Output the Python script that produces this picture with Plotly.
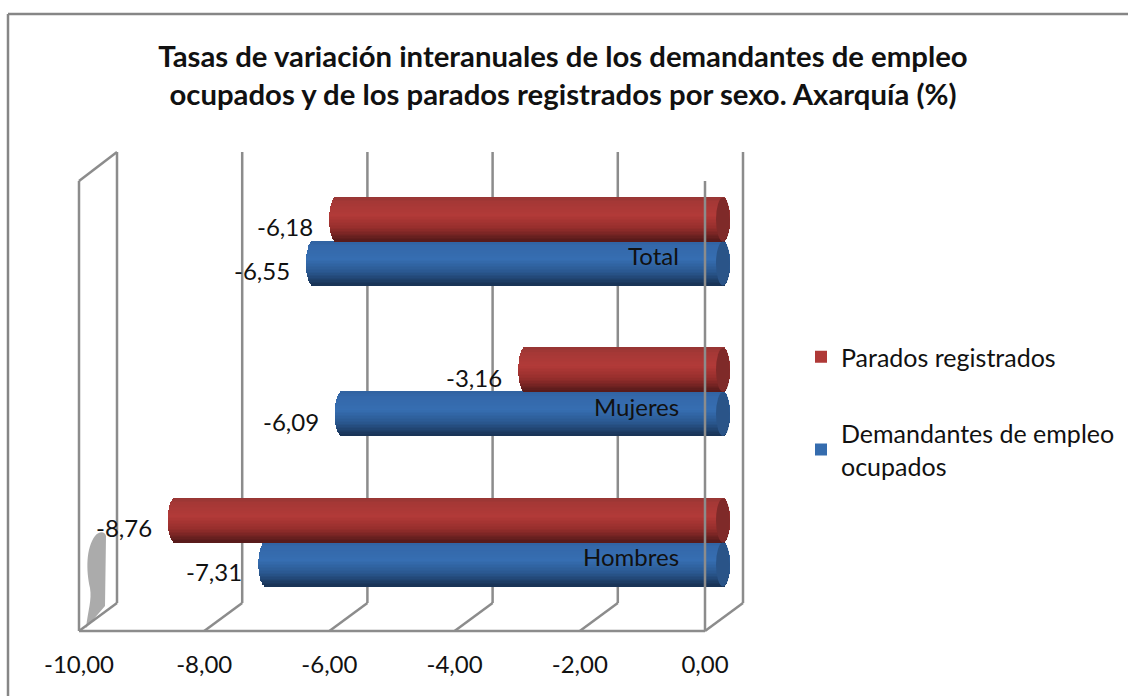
import math
import plotly.graph_objects as go

W, H = 1128, 696
CATEGORIES = ["Hombres", "Mujeres", "Total"]
PARADOS = [-8.76, -3.16, -6.18]
OCUPADOS = [-7.31, -6.09, -6.55]
TICKS = [-10, -8, -6, -4, -2, 0]
TICK_LABELS = ["-10,00", "-8,00", "-6,00", "-4,00", "-2,00", "0,00"]
SERIES_PARADOS = "Parados registrados"
SERIES_OCUPADOS = "Demandantes de empleo<br>ocupados"
TITLE = ("<b>Tasas de variación interanuales de los demandantes de empleo<br>"
         "ocupados y de los parados registrados por sexo. Axarquía (%)</b>")

FONT = "Lato"
GRID = "#8c8c8c"
FRONT_L, FRONT_R, FLOOR_Y = 79, 705, 631
DEPTH_X, DEPTH_Y = 38, 28
BAR_SHIFT = 18
WALL_TOP = 152

def px(x): return x / W
def py(y): return 1 - y / H

CAT_STEP = 150.5
CAT_TOP = 241.5
BAR_H = 44
CAP_R = 7
Y_T, Y_B = CAT_TOP - CAT_STEP / 2, CAT_TOP + 2.5 * CAT_STEP
SCALE = (FRONT_R - FRONT_L) / 10
BAR_UNIT = BAR_H / CAT_STEP
N = 30
OVER = 0.5  # extra axis room right of zero for the cylinder caps

def shade(stops, t):
    for (t0, c0), (t1, c1) in zip(stops, stops[1:]):
        if t <= t1:
            f = (t - t0) / (t1 - t0)
            c = [round(a + (b - a) * f) for a, b in zip(c0, c1)]
            return f"rgb({c[0]},{c[1]},{c[2]})"
    c = stops[-1][1]
    return f"rgb({c[0]},{c[1]},{c[2]})"

RED = [(0, (150, 54, 52)), (0.12, (165, 56, 54)), (0.42, (178, 58, 56)), (0.7, (150, 46, 44)), (1, (85, 26, 26))]
BLUE = [(0, (48, 98, 160)), (0.12, (52, 104, 170)), (0.42, (54, 110, 178)), (0.7, (42, 88, 144)), (1, (24, 50, 84))]

fig = go.Figure()

def add_series(name, values, stops, side, rank):
    fig.add_trace(go.Bar(
        y=CATEGORIES, x=values, orientation="h", name=name, xaxis="x2", yaxis="y2",
        marker=dict(color=shade(stops, 0.45), line=dict(width=0)),
        width=BAR_UNIT, offset=(0 if side < 0 else -BAR_UNIT),
        showlegend=True, hoverinfo="skip", legendgroup=name, legendrank=rank,
    ))
    for i in range(N):
        t0 = i / N
        tm = (i + 0.5) / N
        e = math.sqrt(max(0, 1 - (2 * tm - 1) ** 2)) * CAP_R / SCALE
        h = BAR_UNIT / N
        off = (BAR_UNIT * (1 - t0) - h) if side < 0 else (-BAR_UNIT * t0 - h)
        fig.add_trace(go.Bar(
            y=CATEGORIES, x=[v - 2 * e for v in values], base=[e] * 3, orientation="h",
            xaxis="x2", yaxis="y2", marker=dict(color=shade(stops, tm), line=dict(width=0)),
            width=h * 1.25, offset=off, showlegend=False, hoverinfo="skip", legendgroup=name,
        ))

add_series(SERIES_OCUPADOS, OCUPADOS, BLUE, 1, 2)
add_series(SERIES_PARADOS, PARADOS, RED, -1, 1)

fig.add_trace(go.Scatter(x=TICKS, y=[0] * 6, mode="markers", marker=dict(opacity=0),
                         showlegend=False, hoverinfo="skip", xaxis="x", yaxis="y"))

shapes = []
def line(x0, y0, x1, y1, layer="below", w=2.5, color=GRID):
    shapes.append(dict(type="line", xref="paper", yref="paper", x0=px(x0), y0=py(y0), x1=px(x1), y1=py(y1),
                       line=dict(color=color, width=w), layer=layer))

# outer frame: only its top and left edges fall inside the picture
line(8, 14, W, 14, color="#868686")
line(8, 14, 8, H, color="#868686")

# soft grey smudge on the side wall
P = lambda x, y: f"{px(x)} {py(y)}"
shapes.append(dict(type="path", xref="paper", yref="paper", layer="below", line=dict(width=0),
                   fillcolor="#ababab",
                   path=f"M {P(86, 628)} C {P(88, 610)} {P(92, 600)} {P(90, 588)} "
                        f"C {P(86, 570)} {P(86, 548)} {P(95, 536)} C {P(99, 531)} {P(105, 531)} {P(106, 536)} "
                        f"L {P(105, 606)} Z"))

for v in TICKS:
    fx = FRONT_R + v * SCALE
    bx = fx + DEPTH_X
    line(bx, WALL_TOP, bx, FLOOR_Y - DEPTH_Y)
    line(fx, FLOOR_Y, bx, FLOOR_Y - DEPTH_Y)

line(FRONT_L, FLOOR_Y, FRONT_L, WALL_TOP + 29)
line(FRONT_L, WALL_TOP + 29, FRONT_L + DEPTH_X, WALL_TOP)
line(FRONT_L, FLOOR_Y, FRONT_R, FLOOR_Y)

for cat_i in range(3):
    for y0, y1, col in ((0, BAR_H, "#7f2a29"), (-BAR_H, 0, "#2a5488")):
        shapes.append(dict(type="circle", xref="x2", yref="y2", layer="above",
                           xsizemode="pixel", xanchor=0, x0=-CAP_R, x1=CAP_R,
                           ysizemode="pixel", yanchor=cat_i, y0=y0, y1=y1,
                           line=dict(width=0), fillcolor=col))

line(FRONT_R, FLOOR_Y, FRONT_R, WALL_TOP + 29, layer="above")

ann = []
def fmt(v): return f"{v:.2f}".replace(".", ",")
for vals, sgn in ((PARADOS, -1), (OCUPADOS, 1)):
    for c, v in zip(CATEGORIES, vals):
        ann.append(dict(x=v, y=c, xref="x2", yref="y2", text=fmt(v), showarrow=False,
                        xanchor="right", yanchor="middle", xshift=-CAP_R - 14,
                        yshift=-(sgn * BAR_H / 2 + 7), font=dict(family=FONT, size=24, color="#111")))
for c in CATEGORIES:
    ann.append(dict(x=0, y=c, xref="x2", yref="y2", text=c, showarrow=False, xanchor="right",
                    yanchor="middle", xshift=-42, yshift=-14, font=dict(family=FONT, size=24, color="#111")))

fig.update_layout(
    width=W, height=H, margin=dict(l=0, r=0, t=0, b=0, autoexpand=False), paper_bgcolor="white", plot_bgcolor="rgba(0,0,0,0)",
    barmode="overlay", bargap=0,
    font=dict(family=FONT, size=24, color="#111"),
    title=dict(text=TITLE, x=563 / W, xanchor="center", y=py(67), yanchor="middle",
               font=dict(family=FONT, size=29.3, color="#111")),
    shapes=shapes, annotations=ann,
    xaxis=dict(domain=[px(FRONT_L), px(FRONT_R)], range=[-10, 0], tickmode="array", tickvals=TICKS,
               ticktext=TICK_LABELS, showgrid=False, zeroline=False, showline=False, ticks="",
               anchor="y", ticklabelstandoff=17, tickfont=dict(family=FONT, size=24, color="#111")),
    yaxis=dict(domain=[py(FLOOR_Y), py(WALL_TOP)], range=[0, 1], visible=False, anchor="x"),
    xaxis2=dict(domain=[px(FRONT_L + BAR_SHIFT), px(FRONT_R + BAR_SHIFT + OVER * SCALE)], range=[-10, OVER], visible=False, anchor="y2"),
    yaxis2=dict(domain=[py(Y_B), py(Y_T)], type="category", categoryorder="array", categoryarray=CATEGORIES,
                range=[-0.5, 2.5], visible=False, anchor="x2"),
    legend=dict(x=px(801), xanchor="left", y=py(334), yanchor="top", traceorder="grouped",
                font=dict(family=FONT, size=25, color="#111"), bgcolor="rgba(0,0,0,0)", itemclick=False,
                tracegroupgap=41),
    showlegend=True,
)
fig.write_html("out.html", config={"displayModeBar": False}, post_script="document.body.style.margin='0';")
